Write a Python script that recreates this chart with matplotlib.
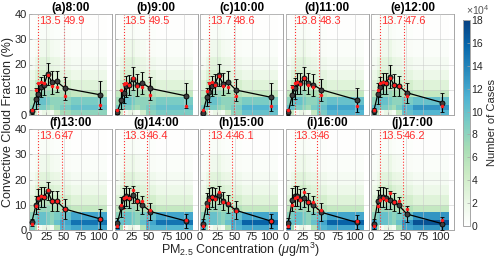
import numpy as np
import matplotlib
matplotlib.use('Agg')
import matplotlib.pyplot as plt
from matplotlib.colors import LinearSegmentedColormap

plt.rcParams['font.family'] = ['Liberation Sans', 'DejaVu Sans']
plt.rcParams['mathtext.fontset'] = 'custom'
plt.rcParams['mathtext.rm'] = 'Liberation Sans'
plt.rcParams['mathtext.it'] = 'Liberation Sans:italic'

titles = ['(a)8:00', '(b)9:00', '(c)10:00', '(d)11:00', '(e)12:00',
          '(f)13:00', '(g)14:00', '(h)15:00', '(i)16:00', '(j)17:00']
thr_low = [13.5, 13.5, 13.7, 13.8, 13.7, 13.6, 13.3, 13.4, 13.3, 13.5]
thr_high = [49.9, 49.5, 48.6, 48.3, 47.6, 47, 46.4, 46.1, 46, 46.2]

pm_x = [4, 10, 13.5, 17, 21.5, 27, 33, 40, 52, 103]
x_edges = [0, 8, 12, 15.5, 19.5, 24, 30, 36.5, 45, 60, 113]
y_edges = [0, 2, 4, 7, 10, 14, 18, 23, 30, 40]

mean_cf = [
    [1.5, 6.5, 8.5, 11.2, 12.0, 16.2, 13.0, 13.3, 10.6, 8.0],
    [1.2, 6.0, 8.8, 11.3, 12.0, 14.4, 12.0, 12.8, 10.5, 7.6],
    [0.7, 7.0, 9.2, 11.5, 12.3, 15.8, 12.3, 13.2, 9.9, 7.0],
    [1.2, 8.0, 10.5, 12.5, 12.5, 14.5, 12.5, 12.0, 10.0, 6.0],
    [1.5, 8.5, 11.0, 12.5, 12.5, 15.2, 11.9, 11.5, 8.8, 4.9],
    [3.0, 9.9, 12.3, 13.2, 13.0, 15.4, 11.5, 11.5, 8.3, 4.4],
    [2.8, 9.0, 12.8, 13.5, 12.8, 14.0, 11.5, 10.0, 7.3, 3.6],
    [2.5, 10.5, 12.5, 13.2, 12.5, 13.8, 11.5, 10.2, 7.8, 3.5],
    [2.8, 12.0, 13.5, 13.5, 12.3, 12.8, 11.0, 10.0, 7.0, 3.0],
    [2.5, 11.5, 13.2, 13.0, 12.5, 12.0, 11.0, 9.8, 6.3, 2.5],
]
median_cf = [
    [1.8, 9.8, 12.5, 13.2, 12.5, 15.8, 11.5, 11.0, 7.7, 3.9],
    [2.0, 9.8, 12.4, 12.6, 12.0, 14.8, 11.3, 11.2, 8.0, 3.5],
    [2.0, 9.5, 12.8, 13.0, 12.0, 15.5, 11.3, 11.0, 7.5, 3.6],
    [2.0, 11.0, 12.5, 13.0, 12.3, 14.5, 12.0, 11.0, 8.0, 3.5],
    [2.0, 10.0, 12.5, 13.2, 12.5, 14.5, 12.0, 11.3, 7.5, 3.6],
    [2.2, 9.6, 12.6, 13.4, 13.0, 15.8, 11.5, 11.5, 8.3, 4.4],
    [1.5, 9.9, 12.5, 13.2, 12.8, 15.8, 11.4, 11.4, 8.0, 4.0],
    [1.5, 9.5, 12.0, 13.0, 12.3, 15.2, 11.2, 10.8, 7.6, 3.5],
    [1.5, 9.8, 12.5, 13.0, 12.0, 15.0, 11.0, 11.0, 8.0, 3.5],
    [1.5, 9.5, 12.0, 12.5, 12.0, 14.5, 11.0, 11.5, 8.5, 4.0],
]
std_cf = [
    [1.0, 4.0, 4.0, 4.0, 4.0, 4.3, 4.6, 4.3, 4.5, 5.5],
    [1.0, 3.8, 4.0, 4.0, 4.0, 4.5, 4.3, 4.3, 4.5, 5.0],
    [1.0, 3.5, 4.0, 4.0, 4.0, 4.5, 4.5, 4.3, 4.5, 5.5],
    [1.2, 4.0, 4.0, 4.0, 4.0, 4.5, 4.3, 4.3, 4.3, 4.8],
    [1.2, 4.0, 4.0, 4.0, 4.0, 4.5, 4.2, 4.0, 4.0, 3.8],
    [1.5, 3.5, 4.0, 4.0, 4.0, 3.5, 4.0, 4.0, 4.0, 4.0],
    [2.0, 4.0, 4.0, 4.0, 4.0, 3.5, 3.5, 3.5, 3.5, 2.8],
    [2.0, 4.0, 4.0, 4.0, 4.0, 3.7, 3.7, 3.6, 3.5, 2.8],
    [2.0, 4.5, 4.0, 4.0, 4.0, 3.7, 3.5, 3.5, 3.5, 2.8],
    [2.0, 4.5, 4.0, 4.0, 4.0, 3.5, 3.5, 3.2, 3.2, 2.5],
]

# number of cases (x 10^4); rows = cloud-fraction bins (bottom to top), cols = PM2.5 bins
cases = [
    [[6, 4, 1, 1, 2, 2, 1, 4, 7, 8],
     [8, 9, 9, 9, 9, 8, 7, 8, 9, 10],
     [7, 9, 10, 10, 10, 9, 8, 8, 8, 9],
     [5, 7, 7.5, 7.5, 7.5, 7.5, 6.5, 6.5, 6, 5],
     [3, 5, 5.5, 5.5, 5.5, 6, 5, 4.5, 4, 3],
     [1.8, 3, 4, 4, 4, 4.5, 3.5, 3, 2.5, 1.8],
     [1, 1.8, 2.5, 2.8, 2.8, 3.2, 2.3, 2, 1.5, 1],
     [0.5, 0.8, 1.2, 1.5, 1.5, 2, 1.2, 1, 0.7, 0.5],
     [0.2, 0.3, 0.5, 0.6, 0.6, 0.8, 0.5, 0.4, 0.3, 0.2]],
    [[7, 4, 1, 1, 2, 2, 1, 4, 8, 9],
     [9, 9, 9, 9, 9, 8, 7, 8, 9, 10],
     [7, 9, 10, 10, 10, 9, 8, 8, 8, 9],
     [5, 7, 7.5, 7.5, 7.5, 7.5, 6.5, 6.5, 6, 5],
     [3, 5, 5.5, 5.5, 5.5, 6, 5, 4.5, 4, 3],
     [1.8, 3, 4, 4, 4, 4.5, 3.5, 3, 2.5, 1.8],
     [1, 1.8, 2.5, 2.8, 2.8, 3.2, 2.3, 2, 1.5, 1],
     [0.5, 0.8, 1.2, 1.5, 1.5, 2, 1.2, 1, 0.7, 0.5],
     [0.2, 0.3, 0.5, 0.6, 0.6, 0.8, 0.5, 0.4, 0.3, 0.2]],
    [[8, 5, 1, 1, 2, 2, 1, 4, 8, 10],
     [9, 10, 9, 9, 9, 8, 7, 8, 9, 11],
     [7, 9, 10, 10, 10, 9, 8, 8, 8, 9],
     [5, 7, 7.5, 7.5, 7.5, 7.5, 6.5, 6.5, 6, 5],
     [3, 5, 5.5, 5.5, 5.5, 6, 5, 4.5, 4, 3],
     [1.8, 3, 4, 4, 4, 4.5, 3.5, 3, 2.5, 1.8],
     [1, 1.8, 2.5, 2.8, 2.8, 3.2, 2.3, 2, 1.5, 1],
     [0.5, 0.8, 1.2, 1.5, 1.5, 2, 1.2, 1, 0.7, 0.5],
     [0.2, 0.3, 0.5, 0.6, 0.6, 0.8, 0.5, 0.4, 0.3, 0.2]],
    [[8, 5, 1, 1, 2, 2, 1, 5, 9, 11],
     [10, 10, 9, 9, 9, 8, 7, 9, 10, 12],
     [8, 9, 10, 10, 10, 9, 8, 8, 9, 10],
     [5, 7, 7.5, 7.5, 7.5, 7.5, 6.5, 6.5, 6, 5],
     [3, 5, 5.5, 5.5, 5.5, 6, 5, 4.5, 4, 3],
     [1.8, 3, 4, 4, 4, 4.5, 3.5, 3, 2.5, 1.8],
     [1, 1.8, 2.5, 2.8, 2.8, 3.2, 2.3, 2, 1.5, 1],
     [0.5, 0.8, 1.2, 1.5, 1.5, 2, 1.2, 1, 0.7, 0.5],
     [0.2, 0.3, 0.5, 0.6, 0.6, 0.8, 0.5, 0.4, 0.3, 0.2]],
    [[9, 5, 1, 1, 2, 2, 1, 5, 10, 11],
     [10, 10, 9, 9, 9, 8, 7, 9, 11, 13],
     [8, 9, 10, 10, 10, 9, 8, 8, 9, 10],
     [5, 7, 7.5, 7.5, 7.5, 7.5, 6.5, 6.5, 6, 5],
     [3, 5, 5.5, 5.5, 5.5, 6, 5, 4.5, 4, 3],
     [1.8, 3, 4, 4, 4, 4.5, 3.5, 3, 2.5, 1.8],
     [1, 1.8, 2.5, 2.8, 2.8, 3.2, 2.3, 2, 1.5, 1],
     [0.5, 0.8, 1.2, 1.5, 1.5, 2, 1.2, 1, 0.7, 0.5],
     [0.2, 0.3, 0.5, 0.6, 0.6, 0.8, 0.5, 0.4, 0.3, 0.2]],
    [[9, 6, 1, 1, 2, 2, 1, 6, 11, 12],
     [10, 10, 10, 10, 10, 9, 8, 10, 12, 15],
     [8, 9, 10, 10, 10, 9, 8, 9, 10, 12],
     [5, 7, 7.5, 7.5, 7.5, 7.5, 6.5, 6.5, 6, 5],
     [3, 5, 5.5, 5.5, 5.5, 6, 5, 4.5, 4, 3],
     [1.8, 3, 4, 4, 4, 4.5, 3.5, 3, 2.5, 1.8],
     [1, 1.8, 2.5, 2.8, 2.8, 3.2, 2.3, 2, 1.5, 1],
     [0.5, 0.8, 1.2, 1.5, 1.5, 2, 1.2, 1, 0.7, 0.5],
     [0.2, 0.3, 0.5, 0.6, 0.6, 0.8, 0.5, 0.4, 0.3, 0.2]],
    [[15, 7, 1, 1, 2, 2, 1, 6, 11, 11],
     [12, 10, 10, 10, 10, 9, 8, 10, 12, 15],
     [8, 9, 10, 10, 10, 9, 8, 9, 10, 12],
     [5, 7, 7.5, 7.5, 7.5, 7.5, 6.5, 6.5, 6, 5],
     [3, 5, 5.5, 5.5, 5.5, 6, 5, 4.5, 4, 3],
     [1.8, 3, 4, 4, 4, 4.5, 3.5, 3, 2.5, 1.8],
     [1, 1.8, 2.5, 2.8, 2.8, 3.2, 2.3, 2, 1.5, 1],
     [0.5, 0.8, 1.2, 1.5, 1.5, 2, 1.2, 1, 0.7, 0.5],
     [0.2, 0.3, 0.5, 0.6, 0.6, 0.8, 0.5, 0.4, 0.3, 0.2]],
    [[12, 7, 1, 1, 2, 2, 1, 6, 11, 12],
     [11, 10, 10, 10, 10, 9, 8, 10, 12, 16],
     [8, 9, 10, 10, 10, 9, 8, 9, 10, 12],
     [5, 7, 7.5, 7.5, 7.5, 7.5, 6.5, 6.5, 6, 5],
     [3, 5, 5.5, 5.5, 5.5, 6, 5, 4.5, 4, 3],
     [1.8, 3, 4, 4, 4, 4.5, 3.5, 3, 2.5, 1.8],
     [1, 1.8, 2.5, 2.8, 2.8, 3.2, 2.3, 2, 1.5, 1],
     [0.5, 0.8, 1.2, 1.5, 1.5, 2, 1.2, 1, 0.7, 0.5],
     [0.2, 0.3, 0.5, 0.6, 0.6, 0.8, 0.5, 0.4, 0.3, 0.2]],
    [[15, 7, 1, 1, 2, 2, 1, 6, 11, 12],
     [12, 10, 10, 10, 10, 9, 8, 10, 12, 16],
     [8, 9, 10, 10, 10, 9, 8, 9, 10, 12],
     [5, 7, 7.5, 7.5, 7.5, 7.5, 6.5, 6.5, 6, 5],
     [3, 5, 5.5, 5.5, 5.5, 6, 5, 4.5, 4, 3],
     [1.8, 3, 4, 4, 4, 4.5, 3.5, 3, 2.5, 1.8],
     [1, 1.8, 2.5, 2.8, 2.8, 3.2, 2.3, 2, 1.5, 1],
     [0.5, 0.8, 1.2, 1.5, 1.5, 2, 1.2, 1, 0.7, 0.5],
     [0.2, 0.3, 0.5, 0.6, 0.6, 0.8, 0.5, 0.4, 0.3, 0.2]],
    [[14, 7, 1, 1, 2, 2, 1, 7, 12, 13],
     [12, 10, 10, 10, 10, 9, 8, 10, 13, 17],
     [8, 9, 10, 10, 10, 9, 8, 9, 10, 13],
     [5, 7, 7.5, 7.5, 7.5, 7.5, 6.5, 6.5, 6, 5],
     [3, 5, 5.5, 5.5, 5.5, 6, 5, 4.5, 4, 3],
     [1.8, 3, 4, 4, 4, 4.5, 3.5, 3, 2.5, 1.8],
     [1, 1.8, 2.5, 2.8, 2.8, 3.2, 2.3, 2, 1.5, 1],
     [0.5, 0.8, 1.2, 1.5, 1.5, 2, 1.2, 1, 0.7, 0.5],
     [0.2, 0.3, 0.5, 0.6, 0.6, 0.8, 0.5, 0.4, 0.3, 0.2]],
]

cmap = LinearSegmentedColormap.from_list('gnbu_w', [
    '#ffffff', '#e8f6e3', '#ccebc5', '#a8ddb5', '#7bccc4',
    '#4eb3d3', '#2b8cbe', '#0868ac', '#084081'])

fig = plt.figure(figsize=(5, 2.63), dpi=100)
W, H = 500.0, 263.0
left0, pw, pitch = 29, 83, 85.5
rows_top = [14, 129]
ph = 101

tick_col = '#262626'
mesh = None
for i in range(10):
    r, c = divmod(i, 5)
    x0 = left0 + c * pitch
    y_top = rows_top[r]
    ax = fig.add_axes([x0 / W, 1 - (y_top + ph) / H, pw / W, ph / H])
    mesh = ax.pcolormesh(x_edges, y_edges, np.array(cases[i]), cmap=cmap,
                         vmin=0, vmax=18, shading='flat', zorder=0)
    ax.set_xlim(0, 120)
    ax.set_ylim(0, 40)
    ax.set_xticks([0, 25, 50, 75, 100])
    ax.set_yticks([0, 10, 20, 30, 40])
    ax.grid(True, color='#c8c8c8', lw=0.5, alpha=0.7, zorder=1)
    ax.set_axisbelow(False)
    for s in ax.spines.values():
        s.set_color('#a6a6a6')
        s.set_linewidth(0.7)
    ax.tick_params(direction='in', length=2, width=0.5, color='#a6a6a6',
                   labelsize=8, labelcolor=tick_col, pad=1.5)
    if r == 0:
        ax.set_xticklabels([])
    if c != 0:
        ax.set_yticklabels([])
    for t in (thr_low[i], thr_high[i]):
        ax.axvline(t, color='#ff3030', ls=':', lw=0.8, zorder=2)
        ax.text(t + 0.6, 37.2, '%g' % t, color='#ff3030', fontsize=8,
                ha='left', va='center', zorder=5)
    ax.errorbar(pm_x, mean_cf[i], yerr=std_cf[i], color='black', lw=0.9,
                elinewidth=0.8, capsize=1.6, capthick=0.7, marker='o',
                ms=3.6, mfc='#3c3c3c', mec='black', mew=0.6, zorder=3)
    ax.plot(pm_x, median_cf[i], 'o', color='#ff1a1a', ms=2.5, mew=0,
            zorder=4)
    ax.set_title(titles[i], fontsize=8.5, fontweight='bold', pad=1.5,
                 color='black')

cax = fig.add_axes([463 / W, 1 - 226 / H, 7 / W, 206 / H])
cb = fig.colorbar(mesh, cax=cax, ticks=list(range(0, 19, 2)))
cb.outline.set_edgecolor('#a6a6a6')
cb.outline.set_linewidth(0.7)
cax.tick_params(direction='in', length=2, width=0.5, color='#a6a6a6',
                labelsize=7.5, labelcolor=tick_col, pad=1)
fig.text(492 / W, 1 - 123 / H, 'Number of Cases', fontsize=8,
         color=tick_col, rotation=90, ha='center', va='center')
fig.text(466 / W, 1 - 10 / H, r'$\times10^{4}$', fontsize=7.5, color='#555555',
         ha='left', va='center')

fig.text(240 / W, 1 - 250 / H, r'PM$_{2.5}$ Concentration ($\mu$g/m$^3$)',
         fontsize=9, ha='center', va='center', color=tick_col)
fig.text(8 / W, 1 - 122 / H, 'Convective Cloud Fraction (%)', fontsize=9,
         ha='center', va='center', rotation=90, color=tick_col)

fig.savefig('out.png', dpi=100)
